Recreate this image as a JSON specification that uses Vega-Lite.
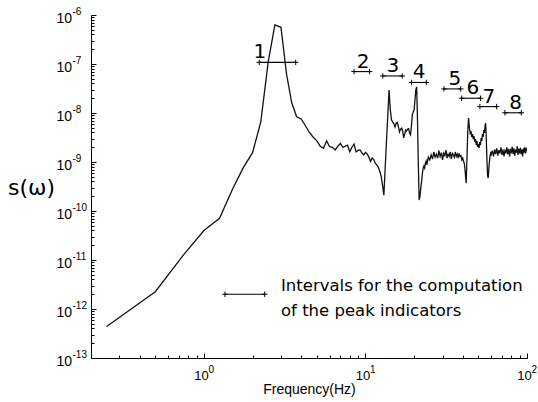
{
  "$schema": "https://vega.github.io/schema/vega-lite/v6.json",
  "width": 436,
  "height": 343,
  "autosize": {"type": "none"},
  "padding": {"left": 91, "top": 15, "right": 11, "bottom": 44},
  "background": "white",
  "config": {
    "view": {"stroke": null},
    "axis": {"grid": false, "domainColor": "black", "tickColor": "black", "labelColor": "black", "titleColor": "black"}
  },
  "datasets": {
    "spectrum": [
      {"f": 0.25, "s": 4.4e-13}, {"f": 0.5, "s": 2.25e-12}, {"f": 0.75, "s": 1.29e-11}, {"f": 1.0, "s": 4.0e-11},
      {"f": 1.25, "s": 7.1e-11}, {"f": 1.5, "s": 2.75e-10}, {"f": 1.75, "s": 7.6e-10}, {"f": 2.0, "s": 1.55e-9},
      {"f": 2.25, "s": 6.6e-9}, {"f": 2.5, "s": 1.1e-7}, {"f": 2.75, "s": 6.25e-7}, {"f": 3.0, "s": 5.6e-7},
      {"f": 3.25, "s": 6.1e-8}, {"f": 3.5, "s": 1.6e-8}, {"f": 3.75, "s": 8.4e-9}, {"f": 4.0, "s": 7.55e-9},
      {"f": 4.25, "s": 5.5e-9}, {"f": 4.5, "s": 4.0e-9}, {"f": 4.75, "s": 3.2e-9}, {"f": 5.0, "s": 2.7e-9},
      {"f": 5.25, "s": 2.1e-9}, {"f": 5.5, "s": 1.9e-9}, {"f": 5.75, "s": 2.7e-9}, {"f": 6.0, "s": 2.05e-9},
      {"f": 6.25, "s": 2.0e-9}, {"f": 6.5, "s": 1.76e-9}, {"f": 6.75, "s": 2.1e-9}, {"f": 7.0, "s": 2.4e-9},
      {"f": 7.25, "s": 1.98e-9}, {"f": 7.5, "s": 2.1e-9}, {"f": 7.75, "s": 2.2e-9}, {"f": 8.0, "s": 1.62e-9},
      {"f": 8.25, "s": 2.0e-9}, {"f": 8.5, "s": 2.33e-9}, {"f": 8.75, "s": 1.6e-9}, {"f": 9.0, "s": 1.72e-9},
      {"f": 9.25, "s": 1.76e-9}, {"f": 9.5, "s": 1.53e-9}, {"f": 9.75, "s": 1.39e-9}, {"f": 10.0, "s": 1.56e-9},
      {"f": 10.25, "s": 1.46e-9}, {"f": 10.5, "s": 1.26e-9}, {"f": 10.75, "s": 1.02e-9}, {"f": 11.0, "s": 1.21e-9},
      {"f": 11.25, "s": 1.12e-9}, {"f": 11.5, "s": 9.5e-10}, {"f": 11.75, "s": 8.7e-10}, {"f": 12.0, "s": 7.9e-10},
      {"f": 12.25, "s": 6.55e-10}, {"f": 12.5, "s": 5.2e-10}, {"f": 12.75, "s": 3.4e-10}, {"f": 13.0, "s": 2.1e-10},
      {"f": 13.25, "s": 7.7e-10}, {"f": 13.5, "s": 2.76e-9}, {"f": 13.75, "s": 9.0e-9}, {"f": 14.0, "s": 2.94e-8},
      {"f": 14.25, "s": 1.15e-8}, {"f": 14.5, "s": 7.2e-9}, {"f": 14.75, "s": 6.6e-9}, {"f": 15.0, "s": 6.0e-9},
      {"f": 15.25, "s": 5.2e-9}, {"f": 15.5, "s": 6.25e-9}, {"f": 15.75, "s": 6.4e-9}, {"f": 16.0, "s": 5.2e-9},
      {"f": 16.25, "s": 4.1e-9}, {"f": 16.5, "s": 4.7e-9}, {"f": 16.75, "s": 4.9e-9}, {"f": 17.0, "s": 4.3e-9},
      {"f": 17.25, "s": 3.1e-9}, {"f": 17.5, "s": 3.7e-9}, {"f": 17.75, "s": 4.5e-9}, {"f": 18.0, "s": 4.3e-9},
      {"f": 18.25, "s": 4.7e-9}, {"f": 18.5, "s": 4.8e-9}, {"f": 18.75, "s": 3.9e-9}, {"f": 19.0, "s": 3.6e-9},
      {"f": 19.25, "s": 5.4e-9}, {"f": 19.5, "s": 9.1e-9}, {"f": 19.75, "s": 1.05e-8}, {"f": 20.0, "s": 1.15e-8},
      {"f": 20.25, "s": 1.84e-8}, {"f": 20.5, "s": 2.95e-8}, {"f": 20.75, "s": 3.4e-8}, {"f": 21.0, "s": 7.2e-9},
      {"f": 21.25, "s": 8.7e-10}, {"f": 21.5, "s": 1.67e-10}, {"f": 21.75, "s": 2.0e-10}, {"f": 22.0, "s": 2.9e-10},
      {"f": 22.25, "s": 3.9e-10}, {"f": 22.5, "s": 5.7e-10}, {"f": 22.75, "s": 7.55e-10}, {"f": 23.0, "s": 8.3e-10},
      {"f": 23.25, "s": 7.55e-10}, {"f": 23.5, "s": 9.5e-10}, {"f": 23.75, "s": 1.05e-9}, {"f": 24.0, "s": 8.7e-10},
      {"f": 24.5, "s": 1.26e-9}, {"f": 25.0, "s": 1.1e-9}, {"f": 25.5, "s": 1.4e-9}, {"f": 26.0, "s": 1.15e-9},
      {"f": 26.5, "s": 1.6e-9}, {"f": 27.0, "s": 1.25e-9}, {"f": 27.5, "s": 1.45e-9}, {"f": 28.0, "s": 1.2e-9},
      {"f": 28.5, "s": 1.7e-9}, {"f": 29.0, "s": 1.3e-9}, {"f": 29.5, "s": 1.55e-9}, {"f": 30.0, "s": 1.1e-9},
      {"f": 30.5, "s": 1.5e-9}, {"f": 31.0, "s": 1.35e-9}, {"f": 31.5, "s": 1.75e-9}, {"f": 32.0, "s": 1.2e-9},
      {"f": 32.5, "s": 1.45e-9}, {"f": 33.0, "s": 1.3e-9}, {"f": 33.5, "s": 1.6e-9}, {"f": 34.0, "s": 1.15e-9},
      {"f": 34.5, "s": 1.5e-9}, {"f": 35.0, "s": 1.4e-9}, {"f": 35.5, "s": 1.25e-9}, {"f": 36.0, "s": 1.6e-9},
      {"f": 36.5, "s": 1.3e-9}, {"f": 37.0, "s": 1.45e-9}, {"f": 37.5, "s": 1.2e-9}, {"f": 38.0, "s": 1.5e-9},
      {"f": 38.5, "s": 1.3e-9}, {"f": 39.0, "s": 1.35e-9}, {"f": 39.5, "s": 1.1e-9}, {"f": 40.0, "s": 1.2e-9},
      {"f": 40.5, "s": 1.05e-9}, {"f": 41.0, "s": 9.0e-10}, {"f": 41.5, "s": 6.0e-10}, {"f": 42.0, "s": 3.7e-10},
      {"f": 42.5, "s": 1.2e-9}, {"f": 43.0, "s": 4.5e-9}, {"f": 43.5, "s": 7.9e-9}, {"f": 44.0, "s": 4.94e-9},
      {"f": 44.5, "s": 3.9e-9}, {"f": 45.0, "s": 4.3e-9}, {"f": 45.5, "s": 3.24e-9}, {"f": 46.0, "s": 3.73e-9},
      {"f": 46.5, "s": 2.94e-9}, {"f": 47.0, "s": 3.4e-9}, {"f": 47.5, "s": 2.56e-9}, {"f": 48.0, "s": 2.94e-9},
      {"f": 48.5, "s": 2.22e-9}, {"f": 49.0, "s": 2.68e-9}, {"f": 49.5, "s": 2.02e-9}, {"f": 50.0, "s": 2.33e-9},
      {"f": 50.5, "s": 1.93e-9}, {"f": 51.0, "s": 2.56e-9}, {"f": 51.5, "s": 2.22e-9}, {"f": 52.0, "s": 3.09e-9},
      {"f": 52.5, "s": 2.68e-9}, {"f": 53.0, "s": 3.73e-9}, {"f": 53.5, "s": 3.24e-9}, {"f": 54.0, "s": 4.5e-9},
      {"f": 54.5, "s": 3.9e-9}, {"f": 55.0, "s": 5.43e-9}, {"f": 55.5, "s": 6.25e-9}, {"f": 56.0, "s": 2.81e-9},
      {"f": 56.5, "s": 1.1e-9}, {"f": 57.0, "s": 5.4e-10}, {"f": 57.5, "s": 4.7e-10}, {"f": 58.0, "s": 7.0e-10},
      {"f": 58.5, "s": 1.0e-9}, {"f": 59.0, "s": 1.3e-9}, {"f": 59.5, "s": 1.5e-9}, {"f": 60.0, "s": 1.4e-9},
      {"f": 61.0, "s": 1.7e-9}, {"f": 62.0, "s": 1.3e-9}, {"f": 63.0, "s": 1.8e-9}, {"f": 64.0, "s": 1.45e-9},
      {"f": 65.0, "s": 1.9e-9}, {"f": 66.0, "s": 1.35e-9}, {"f": 67.0, "s": 1.75e-9}, {"f": 68.0, "s": 1.5e-9},
      {"f": 69.0, "s": 2.0e-9}, {"f": 70.0, "s": 1.4e-9}, {"f": 71.0, "s": 1.8e-9}, {"f": 72.0, "s": 1.3e-9},
      {"f": 73.0, "s": 1.7e-9}, {"f": 74.0, "s": 1.55e-9}, {"f": 75.0, "s": 2.0e-9}, {"f": 76.0, "s": 1.45e-9},
      {"f": 77.0, "s": 1.85e-9}, {"f": 78.0, "s": 1.3e-9}, {"f": 79.0, "s": 1.75e-9}, {"f": 80.0, "s": 1.6e-9},
      {"f": 81.0, "s": 2.05e-9}, {"f": 82.0, "s": 1.45e-9}, {"f": 83.0, "s": 1.9e-9}, {"f": 84.0, "s": 1.35e-9},
      {"f": 85.0, "s": 1.8e-9}, {"f": 86.0, "s": 1.55e-9}, {"f": 87.0, "s": 2.1e-9}, {"f": 88.0, "s": 1.4e-9},
      {"f": 89.0, "s": 1.85e-9}, {"f": 90.0, "s": 1.5e-9}, {"f": 91.0, "s": 1.95e-9}, {"f": 92.0, "s": 1.45e-9},
      {"f": 93.0, "s": 1.8e-9}, {"f": 94.0, "s": 1.3e-9}, {"f": 95.0, "s": 1.9e-9}, {"f": 96.0, "s": 1.55e-9},
      {"f": 97.0, "s": 2.0e-9}, {"f": 98.0, "s": 1.5e-9}, {"f": 99.0, "s": 1.85e-9}, {"f": 100.0, "s": 1.7e-9}
    ],
    "intervals": [
      {"label": "1", "f1": 2.2, "f2": 3.7, "s": 1.08e-7, "lf": 2.22},
      {"label": "2", "f1": 8.5, "f2": 10.6, "s": 7.0e-8, "lf": 9.67},
      {"label": "3", "f1": 12.8, "f2": 16.9, "s": 5.7e-8, "lf": 14.8},
      {"label": "4", "f1": 19.3, "f2": 23.8, "s": 4.2e-8, "lf": 21.5},
      {"label": "5", "f1": 30.6, "f2": 38.9, "s": 3.1e-8, "lf": 35.8},
      {"label": "6", "f1": 39.4, "f2": 51.6, "s": 2.0e-8, "lf": 46.3},
      {"label": "7", "f1": 51.1, "f2": 64.9, "s": 1.35e-8, "lf": 58.1},
      {"label": "8", "f1": 73.0, "f2": 92.2, "s": 1.01e-8, "lf": 85.0},
      {"label": "", "f1": 1.35, "f2": 2.38, "s": 2.0e-12, "lf": null}
    ],
    "note": [
      {"f": 3.0, "s": 4.2e-12, "text": ["Intervals for the computation", "of the peak indicators"]}
    ]
  },
  "resolve": {"axis": {"x": "independent", "y": "independent"}},
  "layer": [
    {
      "data": {"name": "spectrum"},
      "mark": {"type": "line", "color": "#111111", "strokeWidth": 1.3, "clip": true},
      "encoding": {
        "x": {
          "field": "f", "type": "quantitative",
          "scale": {"type": "log", "domain": [0.2, 100], "nice": false},
          "axis": {
            "orient": "bottom", "values": [1, 10, 100], "ticks": false, "tickSize": 0, "labels": false, "domain": true, "domainWidth": 1,
            "title": "Frequency(Hz)", "titleFont": "Liberation Sans", "titleFontSize": 14, "titleFontWeight": "normal",
            "titleY": 31, "titleBaseline": "middle"
          }
        },
        "y": {
          "field": "s", "type": "quantitative",
          "scale": {"type": "log", "domain": [1e-13, 1e-6], "nice": false},
          "axis": {
            "orient": "left", "values": [1e-13, 1e-12, 1e-11, 1e-10, 1e-9, 1e-8, 1e-7, 1e-6], "ticks": false, "tickSize": 0, "labels": false, "domain": true, "domainWidth": 1,
            "title": "s(ω)", "titleAngle": 0, "titleX": -60, "titleY": 172, "titleAlign": "center", "titleBaseline": "middle",
            "titleFont": "DejaVu Sans", "titleFontSize": 22, "titleFontWeight": "normal"
          }
        }
      }
    },
    {
      "data": {"name": "intervals"},
      "mark": {"type": "rule", "color": "black", "strokeWidth": 1.1},
      "encoding": {
        "x": {
          "field": "f1", "type": "quantitative",
          "scale": {"type": "log", "domain": [0.2, 100], "nice": false},
          "axis": {
            "orient": "bottom", "offset": -5, "values": [1, 10, 100],
            "tickSize": 5, "tickWidth": 1, "labels": false, "domain": false, "title": null
          }
        },
        "x2": {"field": "f2"},
        "y": {
          "field": "s", "type": "quantitative",
          "scale": {"type": "log", "domain": [1e-13, 1e-6], "nice": false},
          "axis": {
            "orient": "left", "offset": -5, "values": [1e-13, 1e-12, 1e-11, 1e-10, 1e-9, 1e-8, 1e-7, 1e-6],
            "tickSize": 5, "tickWidth": 1, "labels": false, "domain": false, "title": null
          }
        }
      }
    },
    {
      "data": {"name": "intervals"},
      "transform": [{"fold": ["f1", "f2"], "as": ["end", "fx"]}],
      "mark": {"type": "point", "shape": "M-1,0H1M0,-1V1", "size": 30, "filled": false, "color": "black", "strokeWidth": 1, "opacity": 1},
      "encoding": {
        "x": {
          "field": "fx", "type": "quantitative",
          "scale": {"type": "log", "domain": [0.2, 100], "nice": false},
          "axis": {
            "orient": "bottom", "offset": -3,
            "values": [0.3, 0.4, 0.5, 0.6, 0.7, 0.8, 0.9, 2, 3, 4, 5, 6, 7, 8, 9, 20, 30, 40, 50, 60, 70, 80, 90],
            "tickSize": 3, "tickWidth": 1, "labels": false, "domain": false, "title": null
          }
        },
        "y": {
          "field": "s", "type": "quantitative",
          "scale": {"type": "log", "domain": [1e-13, 1e-6], "nice": false},
          "axis": {
            "orient": "left", "offset": -3,
            "values": [2e-13, 3e-13, 4e-13, 5e-13, 6e-13, 7e-13, 8e-13, 9e-13,
                       2e-12, 3e-12, 4e-12, 5e-12, 6e-12, 7e-12, 8e-12, 9e-12,
                       2e-11, 3e-11, 4e-11, 5e-11, 6e-11, 7e-11, 8e-11, 9e-11,
                       2e-10, 3e-10, 4e-10, 5e-10, 6e-10, 7e-10, 8e-10, 9e-10,
                       2e-9, 3e-9, 4e-9, 5e-9, 6e-9, 7e-9, 8e-9, 9e-9,
                       2e-8, 3e-8, 4e-8, 5e-8, 6e-8, 7e-8, 8e-8, 9e-8,
                       2e-7, 3e-7, 4e-7, 5e-7, 6e-7, 7e-7, 8e-7, 9e-7],
            "tickSize": 3, "tickWidth": 1, "labels": false, "domain": false, "title": null
          }
        }
      }
    },
    {
      "data": {"name": "intervals"},
      "transform": [{"filter": "datum.label != ''"}],
      "mark": {"type": "text", "font": "DejaVu Sans", "fontSize": 20, "align": "center", "baseline": "alphabetic", "dy": -4, "color": "black"},
      "encoding": {
        "x": {
          "field": "lf", "type": "quantitative",
          "scale": {"type": "log", "domain": [0.2, 100], "nice": false},
          "axis": {
            "orient": "bottom", "values": [1, 10, 100], "ticks": false, "tickSize": 0, "domain": false, "title": null,
            "labelExpr": "'10'", "labelFont": "Liberation Sans", "labelFontSize": 13, "labelPadding": 17,
            "labelOffset": -3, "labelFlush": false, "labelAlign": "center", "labelBaseline": "middle", "labelOverlap": false
          }
        },
        "y": {
          "field": "s", "type": "quantitative",
          "scale": {"type": "log", "domain": [1e-13, 1e-6], "nice": false},
          "axis": {
            "orient": "left", "values": [1e-13, 1e-12, 1e-11, 1e-10, 1e-9, 1e-8, 1e-7, 1e-6], "ticks": false, "tickSize": 0, "domain": false, "title": null,
            "labelExpr": "'10'", "labelFont": "Liberation Sans", "labelFontSize": 14, "labelPadding": 19.5,
            "labelOffset": 3, "labelFlush": false, "labelAlign": "right", "labelBaseline": "middle", "labelOverlap": false
          }
        },
        "text": {"field": "label", "type": "nominal"}
      }
    },
    {
      "data": {"name": "note"},
      "mark": {"type": "text", "font": "DejaVu Sans", "fontSize": 16.5, "align": "left", "baseline": "top", "lineHeight": 25, "color": "black"},
      "encoding": {
        "x": {
          "field": "f", "type": "quantitative",
          "scale": {"type": "log", "domain": [0.2, 100], "nice": false},
          "axis": {
            "orient": "bottom", "values": [1, 10, 100], "ticks": false, "tickSize": 0, "domain": false, "title": null,
            "labelExpr": "'' + round(log(datum.value) / LN10)", "labelFont": "Liberation Sans", "labelFontSize": 10, "labelPadding": 11,
            "labelOffset": 4, "labelFlush": false, "labelAlign": "left", "labelBaseline": "middle", "labelOverlap": false
          }
        },
        "y": {
          "field": "s", "type": "quantitative",
          "scale": {"type": "log", "domain": [1e-13, 1e-6], "nice": false},
          "axis": {
            "orient": "left", "values": [1e-13, 1e-12, 1e-11, 1e-10, 1e-9, 1e-8, 1e-7, 1e-6], "ticks": false, "tickSize": 0, "domain": false, "title": null,
            "labelExpr": "'' + round(log(datum.value) / LN10)", "labelFont": "Liberation Sans", "labelFontSize": 10, "labelPadding": 19,
            "labelOffset": -4, "labelFlush": false, "labelAlign": "left", "labelBaseline": "middle", "labelOverlap": false
          }
        },
        "text": {"field": "text"}
      }
    }
  ]
}
